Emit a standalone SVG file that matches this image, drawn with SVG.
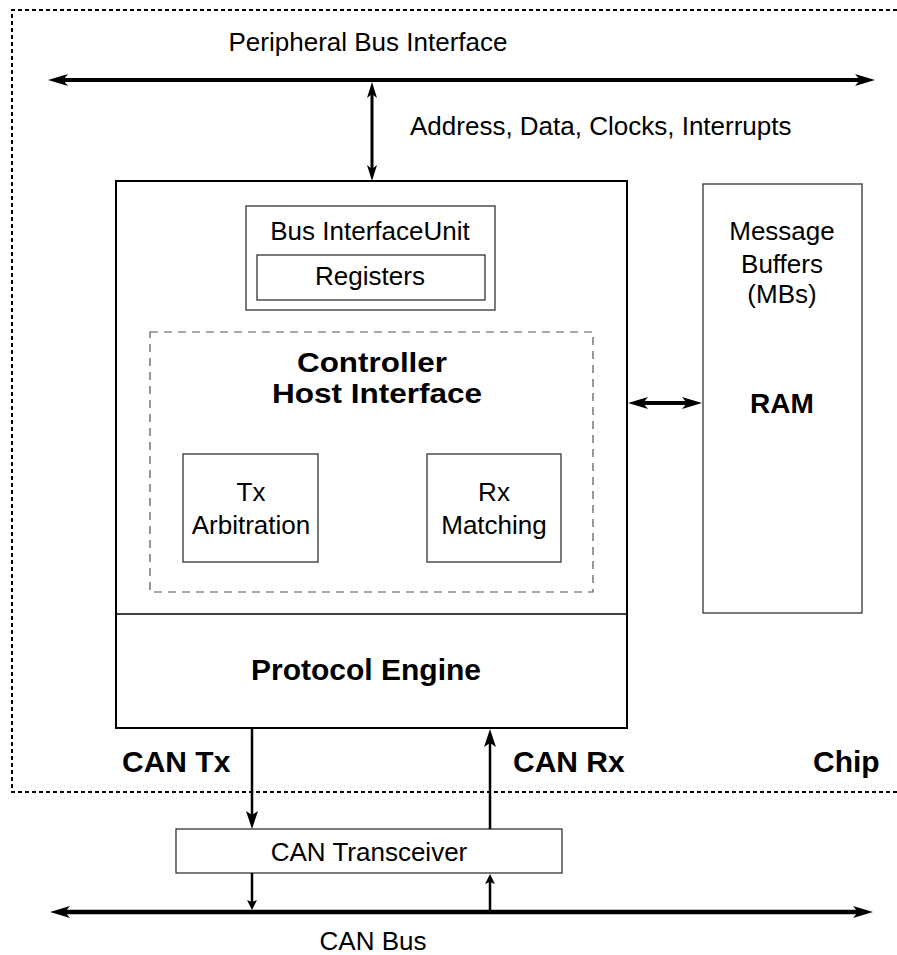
<svg xmlns="http://www.w3.org/2000/svg" width="897" height="955" viewBox="0 0 897 955">
<style>
  text { font-family: "Liberation Sans", Arial, Helvetica, sans-serif; fill: #000; }
  .r { font-size: 26px; }
  .b { font-size: 30px; font-weight: bold; }
  .m { text-anchor: middle; }
  .box { fill: #fff; stroke: #333; stroke-width: 1.3; }
  .main { fill: #fff; stroke: #000; stroke-width: 2; }
  .chip { fill: none; stroke: #000; stroke-width: 2; stroke-dasharray: 4 3; }
  .chi { fill: none; stroke: #555; stroke-width: 1.2; stroke-dasharray: 8 6; }
  .conn { fill: none; stroke: #000; }
</style>
<defs>
  <marker id="bigHead" markerUnits="userSpaceOnUse" markerWidth="20" markerHeight="12" viewBox="0 0 20 12" refX="5" refY="6" orient="auto-start-reverse">
    <path d="M0,0 L20,6 L0,12 L5,6 Z" fill="#000"/>
  </marker>
  <marker id="midHead" markerUnits="userSpaceOnUse" markerWidth="16" markerHeight="10" viewBox="0 0 16 10" refX="4" refY="5" orient="auto-start-reverse">
    <path d="M0,0 L16,5 L0,10 L4,5 Z" fill="#000"/>
  </marker>
  <marker id="canHead" markerUnits="userSpaceOnUse" markerWidth="18" markerHeight="12" viewBox="0 0 18 12" refX="4" refY="6" orient="auto-start-reverse">
    <path d="M0,0 L18,6 L0,12 L4,6 Z" fill="#000"/>
  </marker>
  <marker id="smallHead" markerUnits="userSpaceOnUse" markerWidth="10" markerHeight="10" viewBox="0 0 10 10" refX="2" refY="5" orient="auto-start-reverse">
    <path d="M0,0 L10,5 L0,10 L2,5 Z" fill="#000"/>
  </marker>
</defs>

<g id="chip-boundary">
  <path class="chip" d="M897,10 H12 V792 H897"/>
  <text class="b" x="813" y="772">Chip</text>
</g>

<g id="peripheral-bus">
  <text class="r m" x="368" y="51">Peripheral Bus Interface</text>
</g>

<g id="controller">
  <rect class="main" x="116" y="181" width="511" height="547"/>
  <line x1="116" y1="614" x2="627" y2="614" stroke="#000" stroke-width="1.5"/>
</g>

<g id="bus-interface-unit">
  <rect class="box" x="246" y="206" width="249" height="104"/>
  <text class="r m" x="370" y="240">Bus InterfaceUnit</text>
</g>

<g id="registers">
  <rect class="box" x="257" y="255" width="228" height="45"/>
  <text class="r m" x="370" y="285">Registers</text>
</g>

<g id="controller-host-interface">
  <rect class="chi" x="150" y="332" width="443" height="260"/>
  <text class="b m" x="372" y="372" style="font-size:27.5px" textLength="150" lengthAdjust="spacingAndGlyphs">Controller</text>
  <text class="b m" x="377" y="403" style="font-size:27.5px" textLength="210" lengthAdjust="spacingAndGlyphs">Host Interface</text>
</g>

<g id="tx-arbitration">
  <rect class="box" x="183" y="454" width="135" height="108"/>
  <text class="r m" x="251" y="501">Tx</text>
  <text class="r m" x="251" y="534">Arbitration</text>
</g>

<g id="rx-matching">
  <rect class="box" x="427" y="454" width="134" height="108"/>
  <text class="r m" x="494" y="501">Rx</text>
  <text class="r m" x="494" y="534">Matching</text>
</g>

<g id="protocol-engine">
  <text class="b m" x="366" y="680">Protocol Engine</text>
</g>

<g id="ram">
  <rect class="box" x="703" y="184" width="159" height="429"/>
  <text class="r m" x="782" y="240">Message</text>
  <text class="r m" x="782" y="273">Buffers</text>
  <text class="r m" x="782" y="303">(MBs)</text>
  <text class="b m" x="782" y="413" style="font-size:28px">RAM</text>
</g>

<g id="can-transceiver">
  <rect class="box" x="176" y="829" width="386" height="44"/>
  <text class="r m" x="369" y="861">CAN Transceiver</text>
</g>

<g id="can-bus">
  <text class="r m" x="373" y="950">CAN Bus</text>
</g>

<g id="connectors">
  <line class="conn" x1="63" y1="80" x2="860" y2="80" stroke-width="4" marker-start="url(#bigHead)" marker-end="url(#bigHead)"/>
  <line class="conn" x1="372" y1="94" x2="372" y2="169" stroke-width="3" marker-start="url(#midHead)" marker-end="url(#midHead)"/>
  <text class="r" x="410" y="135">Address, Data, Clocks, Interrupts</text>
  <line class="conn" x1="643" y1="403" x2="687" y2="403" stroke-width="4" marker-start="url(#bigHead)" marker-end="url(#bigHead)"/>
  <line class="conn" x1="252" y1="728" x2="252" y2="815" stroke-width="2.5" marker-end="url(#canHead)"/>
  <text class="b" x="122" y="772">CAN Tx</text>
  <line class="conn" x1="490" y1="829" x2="490" y2="743" stroke-width="2.5" marker-end="url(#canHead)"/>
  <text class="b" x="513" y="772">CAN Rx</text>
  <line class="conn" x1="252" y1="873" x2="252" y2="902" stroke-width="2.5" marker-end="url(#smallHead)"/>
  <line class="conn" x1="490" y1="912" x2="490" y2="882" stroke-width="2.5" marker-end="url(#smallHead)"/>
  <line class="conn" x1="65" y1="912" x2="858" y2="912" stroke-width="4.5" marker-start="url(#bigHead)" marker-end="url(#bigHead)"/>
</g>
</svg>
